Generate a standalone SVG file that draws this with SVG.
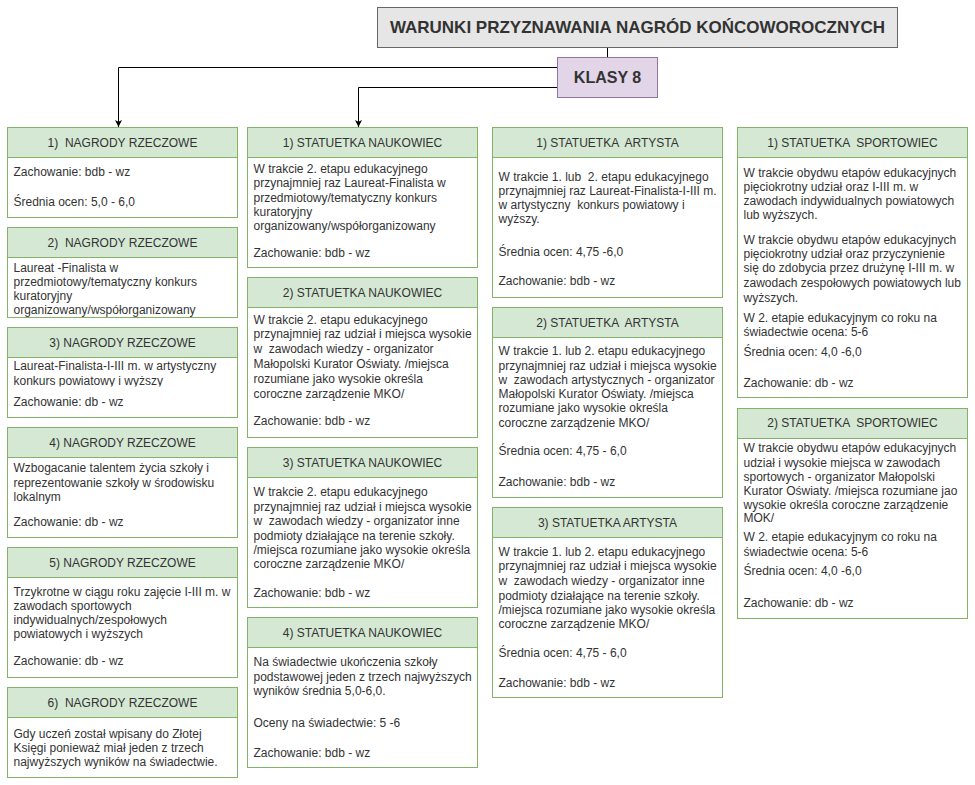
<svg xmlns="http://www.w3.org/2000/svg" width="975" height="785" viewBox="0 0 975 785">
<style>
text { font-family: "Liberation Sans", Arial, sans-serif; fill: #333333; white-space: pre; }
.b { font-size: 12px; }
.h { font-size: 12px; text-anchor: middle; }
.t { font-size: 16px; font-weight: bold; text-anchor: middle; }
.tt { font-size: 17px; font-weight: bold; text-anchor: middle; }
.box { fill: #ffffff; stroke: #82b366; stroke-width: 1; }
.hd { fill: #d5e8d4; stroke: #82b366; stroke-width: 1; }
.edge { fill: none; stroke: #000000; stroke-width: 1; }
</style>
<defs>
<marker id="arr" viewBox="0 0 10 10" refX="10" refY="5" markerWidth="7" markerHeight="7" markerUnits="userSpaceOnUse" orient="auto">
<path d="M0,0 L10,5 L0,10 L2.5,5 Z" fill="#000000"/>
</marker>
<clipPath id="c12"><rect x="7.5" y="257.5" width="230" height="60"/></clipPath>
<clipPath id="c13"><rect x="7.5" y="357.5" width="230" height="29"/></clipPath>
</defs>
<rect width="975" height="785" fill="#ffffff"/>

<g id="connectors">
<path class="edge" d="M607.5,47.5 L607.5,57.5"/>
<path class="edge" d="M557.5,67.5 L118.5,67.5 L118.5,127" marker-end="url(#arr)"/>
<path class="edge" d="M557.5,87.5 L358.5,87.5 L358.5,127" marker-end="url(#arr)"/>
</g>

<g id="title">
<rect x="377.5" y="7.5" width="520" height="40" fill="#e6e6e6" stroke="#666666"/>
<text class="tt" x="637.5" y="33">WARUNKI PRZYZNAWANIA NAGRÓD KOŃCOWOROCZNYCH</text>
</g>

<g id="klasy8">
<rect x="557.5" y="57.5" width="100" height="40" fill="#e1d5e7" stroke="#9673a6"/>
<text class="t" x="607.5" y="83">KLASY 8</text>
</g>

<!-- Column 1 -->
<g id="nr1">
<rect class="box" x="7.5" y="127.5" width="230" height="90"/>
<rect class="hd" x="7.5" y="127.5" width="230" height="30"/>
<text class="h" x="122.5" y="146.5">1)  NAGRODY RZECZOWE</text>
<text class="b" x="13.5" y="176">Zachowanie: bdb - wz</text>
<text class="b" x="13.5" y="206">Średnia ocen: 5,0 - 6,0</text>
</g>
<g id="nr2">
<rect class="box" x="7.5" y="227.5" width="230" height="90"/>
<rect class="hd" x="7.5" y="227.5" width="230" height="30"/>
<text class="h" x="122.5" y="246.5">2)  NAGRODY RZECZOWE</text>
<g clip-path="url(#c12)">
<text class="b" x="13.5" y="272">Laureat -Finalista w</text>
<text class="b" x="13.5" y="286">przedmiotowy/tematyczny konkurs</text>
<text class="b" x="13.5" y="300">kuratoryjny</text>
<text class="b" x="13.5" y="314">organizowany/współorganizowany</text>
</g>
</g>
<g id="nr3">
<rect class="box" x="7.5" y="327.5" width="230" height="90"/>
<rect class="hd" x="7.5" y="327.5" width="230" height="30"/>
<text class="h" x="122.5" y="346.5">3) NAGRODY RZECZOWE</text>
<g clip-path="url(#c13)">
<text class="b" x="13.5" y="370">Laureat-Finalista-I-III m. w artystyczny</text>
<text class="b" x="13.5" y="385">konkurs powiatowy i wyższy</text>
</g>
<text class="b" x="13.5" y="406">Zachowanie: db - wz</text>
</g>
<g id="nr4">
<rect class="box" x="7.5" y="427.5" width="230" height="110"/>
<rect class="hd" x="7.5" y="427.5" width="230" height="30"/>
<text class="h" x="122.5" y="446.5">4) NAGRODY RZECZOWE</text>
<text class="b" x="13.5" y="472">Wzbogacanie talentem życia szkoły i</text>
<text class="b" x="13.5" y="486.5">reprezentowanie szkoły w środowisku</text>
<text class="b" x="13.5" y="501">lokalnym</text>
<text class="b" x="13.5" y="526">Zachowanie: db - wz</text>
</g>
<g id="nr5">
<rect class="box" x="7.5" y="547.5" width="230" height="130"/>
<rect class="hd" x="7.5" y="547.5" width="230" height="30"/>
<text class="h" x="122.5" y="566.5">5) NAGRODY RZECZOWE</text>
<text class="b" x="13.5" y="596">Trzykrotne w ciągu roku zajęcie I-III m. w</text>
<text class="b" x="13.5" y="610">zawodach sportowych</text>
<text class="b" x="13.5" y="624">indywidualnych/zespołowych</text>
<text class="b" x="13.5" y="638">powiatowych i wyższych</text>
<text class="b" x="13.5" y="665">Zachowanie: db - wz</text>
</g>
<g id="nr6">
<rect class="box" x="7.5" y="687.5" width="230" height="90"/>
<rect class="hd" x="7.5" y="687.5" width="230" height="30"/>
<text class="h" x="122.5" y="706.5">6)  NAGRODY RZECZOWE</text>
<text class="b" x="13.5" y="737.5">Gdy uczeń został wpisany do Złotej</text>
<text class="b" x="13.5" y="751.5">Księgi ponieważ miał jeden z trzech</text>
<text class="b" x="13.5" y="766">najwyższych wyników na świadectwie.</text>
</g>

<!-- Column 2 -->
<g id="nauk1">
<rect class="box" x="247.5" y="127.5" width="230" height="140"/>
<rect class="hd" x="247.5" y="127.5" width="230" height="30"/>
<text class="h" x="362.5" y="146.5">1) STATUETKA NAUKOWIEC</text>
<text class="b" x="253.5" y="172.5">W trakcie 2. etapu edukacyjnego</text>
<text class="b" x="253.5" y="187">przynajmniej raz Laureat-Finalista w</text>
<text class="b" x="253.5" y="201.5">przedmiotowy/tematyczny konkurs</text>
<text class="b" x="253.5" y="216">kuratoryjny</text>
<text class="b" x="253.5" y="230">organizowany/współorganizowany</text>
<text class="b" x="253.5" y="257">Zachowanie: bdb - wz</text>
</g>
<g id="nauk2">
<rect class="box" x="247.5" y="277.5" width="230" height="160"/>
<rect class="hd" x="247.5" y="277.5" width="230" height="30"/>
<text class="h" x="362.5" y="296.5">2) STATUETKA NAUKOWIEC</text>
<text class="b" x="253.5" y="323.5">W trakcie 2. etapu edukacyjnego</text>
<text class="b" x="253.5" y="338.3">przynajmniej raz udział i miejsca wysokie</text>
<text class="b" x="253.5" y="353">w  zawodach wiedzy - organizator</text>
<text class="b" x="253.5" y="368">Małopolski Kurator Oświaty. /miejsca</text>
<text class="b" x="253.5" y="382.7">rozumiane jako wysokie określa</text>
<text class="b" x="253.5" y="397.5">coroczne zarządzenie MKO/</text>
<text class="b" x="253.5" y="425">Zachowanie: bdb - wz</text>
</g>
<g id="nauk3">
<rect class="box" x="247.5" y="447.5" width="230" height="160"/>
<rect class="hd" x="247.5" y="447.5" width="230" height="30"/>
<text class="h" x="362.5" y="466.5">3) STATUETKA NAUKOWIEC</text>
<text class="b" x="253.5" y="495.7">W trakcie 2. etapu edukacyjnego</text>
<text class="b" x="253.5" y="510.5">przynajmniej raz udział i miejsca wysokie</text>
<text class="b" x="253.5" y="525">w  zawodach wiedzy - organizator inne</text>
<text class="b" x="253.5" y="540">podmioty działające na terenie szkoły.</text>
<text class="b" x="253.5" y="554">/miejsca rozumiane jako wysokie określa</text>
<text class="b" x="253.5" y="568.3">coroczne zarządzenie MKO/</text>
<text class="b" x="253.5" y="597.3">Zachowanie: bdb - wz</text>
</g>
<g id="nauk4">
<rect class="box" x="247.5" y="617.5" width="230" height="150"/>
<rect class="hd" x="247.5" y="617.5" width="230" height="30"/>
<text class="h" x="362.5" y="636.5">4) STATUETKA NAUKOWIEC</text>
<text class="b" x="253.5" y="665.7">Na świadectwie ukończenia szkoły</text>
<text class="b" x="253.5" y="680.7">podstawowej jeden z trzech najwyższych</text>
<text class="b" x="253.5" y="695">wyników średnia 5,0-6,0.</text>
<text class="b" x="253.5" y="726.7">Oceny na świadectwie: 5 -6</text>
<text class="b" x="253.5" y="756.7">Zachowanie: bdb - wz</text>
</g>

<!-- Column 3 -->
<g id="art1">
<rect class="box" x="492.5" y="127.5" width="230" height="170"/>
<rect class="hd" x="492.5" y="127.5" width="230" height="30"/>
<text class="h" x="607.5" y="146.5">1) STATUETKA  ARTYSTA</text>
<text class="b" x="498.5" y="180.7">W trakcie 1. lub  2. etapu edukacyjnego</text>
<text class="b" x="498.5" y="195">przynajmniej raz Laureat-Finalista-I-III m.</text>
<text class="b" x="498.5" y="209">w artystyczny  konkurs powiatowy i</text>
<text class="b" x="498.5" y="223">wyższy.</text>
<text class="b" x="498.5" y="255.7">Średnia ocen: 4,75 -6,0</text>
<text class="b" x="498.5" y="285">Zachowanie: bdb - wz</text>
</g>
<g id="art2">
<rect class="box" x="492.5" y="307.5" width="230" height="190"/>
<rect class="hd" x="492.5" y="307.5" width="230" height="30"/>
<text class="h" x="607.5" y="326.5">2) STATUETKA  ARTYSTA</text>
<text class="b" x="498.5" y="355">W trakcie 1. lub 2. etapu edukacyjnego</text>
<text class="b" x="498.5" y="369.7">przynajmniej raz udział i miejsca wysokie</text>
<text class="b" x="498.5" y="384">w  zawodach artystycznych - organizator</text>
<text class="b" x="498.5" y="398.3">Małopolski Kurator Oświaty. /miejsca</text>
<text class="b" x="498.5" y="412.3">rozumiane jako wysokie określa</text>
<text class="b" x="498.5" y="427.3">coroczne zarządzenie MKO/</text>
<text class="b" x="498.5" y="455">Średnia ocen: 4,75 - 6,0</text>
<text class="b" x="498.5" y="486.3">Zachowanie: bdb - wz</text>
</g>
<g id="art3">
<rect class="box" x="492.5" y="507.5" width="230" height="190"/>
<rect class="hd" x="492.5" y="507.5" width="230" height="30"/>
<text class="h" x="607.5" y="527">3) STATUETKA ARTYSTA</text>
<text class="b" x="498.5" y="555.7">W trakcie 1. lub 2. etapu edukacyjnego</text>
<text class="b" x="498.5" y="570">przynajmniej raz udział i miejsca wysokie</text>
<text class="b" x="498.5" y="585">w  zawodach wiedzy - organizator inne</text>
<text class="b" x="498.5" y="600">podmioty działające na terenie szkoły.</text>
<text class="b" x="498.5" y="614">/miejsca rozumiane jako wysokie określa</text>
<text class="b" x="498.5" y="628.3">coroczne zarządzenie MKO/</text>
<text class="b" x="498.5" y="657.3">Średnia ocen: 4,75 - 6,0</text>
<text class="b" x="498.5" y="686.7">Zachowanie: bdb - wz</text>
</g>

<!-- Column 4 -->
<g id="sport1">
<rect class="box" x="737.5" y="127.5" width="230" height="270"/>
<rect class="hd" x="737.5" y="127.5" width="230" height="30"/>
<text class="h" x="852.5" y="146.5">1) STATUETKA  SPORTOWIEC</text>
<text class="b" x="743.5" y="176.7">W trakcie obydwu etapów edukacyjnych</text>
<text class="b" x="743.5" y="190.7">pięciokrotny udział oraz I-III m. w</text>
<text class="b" x="743.5" y="205">zawodach indywidualnych powiatowych</text>
<text class="b" x="743.5" y="219">lub wyższych.</text>
<text class="b" x="743.5" y="244">W trakcie obydwu etapów edukacyjnych</text>
<text class="b" x="743.5" y="258.3">pięciokrotny udział oraz przyczynienie</text>
<text class="b" x="743.5" y="272.3">się do zdobycia przez drużynę I-III m. w</text>
<text class="b" x="743.5" y="287.3">zawodach zespołowych powiatowych lub</text>
<text class="b" x="743.5" y="301.7">wyższych.</text>
<text class="b" x="743.5" y="321.7">W 2. etapie edukacyjnym co roku na</text>
<text class="b" x="743.5" y="335.7">świadectwie ocena: 5-6</text>
<text class="b" x="743.5" y="355.7">Średnia ocen: 4,0 -6,0</text>
<text class="b" x="743.5" y="387.3">Zachowanie: db - wz</text>
</g>
<g id="sport2">
<rect class="box" x="737.5" y="408.5" width="230" height="210"/>
<rect class="hd" x="737.5" y="408.5" width="230" height="30"/>
<text class="h" x="852.5" y="427">2) STATUETKA  SPORTOWIEC</text>
<text class="b" x="743.5" y="452.3">W trakcie obydwu etapów edukacyjnych</text>
<text class="b" x="743.5" y="466.7">udział i wysokie miejsca w zawodach</text>
<text class="b" x="743.5" y="480.7">sportowych - organizator Małopolski</text>
<text class="b" x="743.5" y="494.7">Kurator Oświaty. /miejsca rozumiane jao</text>
<text class="b" x="743.5" y="509">wysokie określa coroczne zarządzenie</text>
<text class="b" x="743.5" y="522.3">MOK/</text>
<text class="b" x="743.5" y="541.3">W 2. etapie edukacyjnym co roku na</text>
<text class="b" x="743.5" y="555.7">świadectwie ocena: 5-6</text>
<text class="b" x="743.5" y="574.7">Średnia ocen: 4,0 -6,0</text>
<text class="b" x="743.5" y="606.7">Zachowanie: db - wz</text>
</g>
</svg>
